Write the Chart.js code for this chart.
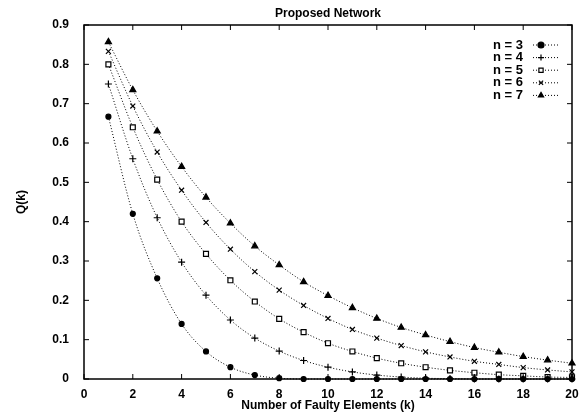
<!DOCTYPE html>
<html>
<head>
<meta charset="utf-8">
<script src="https://cdn.jsdelivr.net/npm/chart.js@4/dist/chart.umd.min.js"></script>
<style>
  html, body { margin: 0; padding: 0; background: #fff; }
  #wrap { width: 586px; height: 416px; }
</style>
</head>
<body>
<div id="wrap"><canvas id="chart"></canvas></div>
<script>
// faulty elements k
const ks = [1, 2, 3, 4, 5, 6, 7, 8, 9, 10, 11, 12, 13, 14, 15, 16, 17, 18, 19, 20];

// Q(k) for each n
const q3 = [0.667, 0.42, 0.256, 0.14, 0.07, 0.03, 0.01, 0.002, 0, 0, 0, 0, 0, 0, 0, 0, 0, 0, 0, 0];
const q4 = [0.75, 0.56, 0.41, 0.297, 0.213, 0.15, 0.104, 0.071, 0.047, 0.03, 0.018, 0.01, 0.005, 0.002, 0.001, 0, 0, 0, 0, 0];
const q5 = [0.8, 0.64, 0.507, 0.40, 0.318, 0.251, 0.197, 0.153, 0.119, 0.091, 0.07, 0.053, 0.04, 0.03, 0.022, 0.016, 0.011, 0.008, 0.005, 0.004];
const q6 = [0.833, 0.694, 0.577, 0.48, 0.398, 0.33, 0.273, 0.226, 0.187, 0.154, 0.126, 0.104, 0.085, 0.069, 0.056, 0.045, 0.037, 0.029, 0.023, 0.018];
const q7 = [0.857, 0.735, 0.63, 0.54, 0.462, 0.396, 0.338, 0.29, 0.247, 0.212, 0.181, 0.154, 0.131, 0.112, 0.095, 0.08, 0.068, 0.057, 0.048, 0.04];

const seriesNames = ['n = 3', 'n = 4', 'n = 5', 'n = 6', 'n = 7'];
const xTicks = [0, 2, 4, 6, 8, 10, 12, 14, 16, 18, 20];
const yTicks = [0, 0.1, 0.2, 0.3, 0.4, 0.5, 0.6, 0.7, 0.8, 0.9];
const titleText = 'Proposed Network';

const FONT = 'Liberation Sans, Arial, sans-serif';

const styles = [
  {pointStyle: 'circle', pointRadius: 2.5, fill: '#000'},
  {pointStyle: 'cross', pointRadius: 3.5, fill: '#000'},
  {pointStyle: 'rect', pointRadius: 3.5, fill: '#fff'},
  {pointStyle: 'crossRot', pointRadius: 3.5, fill: '#000'},
  {pointStyle: 'triangle', pointRadius: 3.5, fill: '#000'},
];

function pts(vals) {
  return ks.map((k, i) => ({x: k, y: vals[i]}));
}

const datasets = [q3, q4, q5, q6, q7].map((vals, i) => ({
  label: seriesNames[i],
  data: pts(vals),
  borderColor: '#000',
  borderWidth: 1,
  borderDash: [1, 2],
  backgroundColor: styles[i].fill,
  pointStyle: styles[i].pointStyle,
  pointRadius: styles[i].pointRadius,
  pointBorderColor: '#000',
  pointBorderWidth: 1.2,
  pointBackgroundColor: styles[i].fill,
  tension: 0.4,
  cubicInterpolationMode: 'monotone',
  clip: false
}));

// gnuplot-like frame with inward ticks on all sides, plus the title over the plot area
const framePlugin = {
  id: 'frame',
  afterDatasetsDraw(chart) {
    const ctx = chart.ctx, a = chart.chartArea;
    const xs = chart.scales.x, ys = chart.scales.y;
    ctx.save();
    ctx.strokeStyle = '#000';
    ctx.lineWidth = 1.5;
    ctx.strokeRect(a.left, a.top, a.right - a.left, a.bottom - a.top);
    ctx.lineWidth = 1;
    ctx.beginPath();
    const len = 5;
    xTicks.forEach(v => {
      const px = xs.getPixelForValue(v);
      ctx.moveTo(px, a.bottom); ctx.lineTo(px, a.bottom - len);
      ctx.moveTo(px, a.top); ctx.lineTo(px, a.top + len);
    });
    yTicks.forEach(v => {
      const py = ys.getPixelForValue(v);
      ctx.moveTo(a.left, py); ctx.lineTo(a.left + len, py);
      ctx.moveTo(a.right, py); ctx.lineTo(a.right - len, py);
    });
    ctx.stroke();
    ctx.font = 'bold 12px ' + FONT;
    ctx.fillStyle = '#000';
    ctx.textAlign = 'center';
    ctx.textBaseline = 'middle';
    ctx.fillText(titleText, (a.left + a.right) / 2, 14);
    ctx.restore();
  }
};

// legend: text right-aligned, then a dotted sample with its marker
const keyPlugin = {
  id: 'key',
  afterDraw(chart) {
    const ctx = chart.ctx, a = chart.chartArea;
    ctx.save();
    ctx.font = 'bold 13px ' + FONT;
    ctx.textAlign = 'right';
    ctx.textBaseline = 'middle';
    chart.data.datasets.forEach((ds, i) => {
      const y = 45 + i * 12.6;
      const tx = 523;
      ctx.fillStyle = '#000';
      ctx.fillText(ds.label, tx, y);
      ctx.strokeStyle = '#000';
      ctx.lineWidth = 1;
      ctx.setLineDash([1, 2]);
      ctx.beginPath();
      ctx.moveTo(tx + 10, y); ctx.lineTo(tx + 36, y);
      ctx.stroke();
      ctx.setLineDash([]);
      ctx.fillStyle = ds.pointBackgroundColor;
      ctx.lineWidth = 1.2;
      Chart.helpers.drawPoint(ctx, {pointStyle: ds.pointStyle, radius: 3, rotation: 0, borderWidth: 1.2}, tx + 18, y);
    });
    ctx.restore();
  }
};

const tickFont = {family: FONT, size: 12, weight: 'bold'};

new Chart(document.getElementById('chart'), {
  type: 'line',
  data: {datasets: datasets},
  options: {
    responsive: true,
    maintainAspectRatio: false,
    animation: false,
    layout: {padding: {left: 0, right: 14, top: 25, bottom: 0}},
    plugins: {
      legend: {display: false},
      tooltip: {enabled: false},
      title: {display: false}
    },
    scales: {
      x: {
        type: 'linear',
        min: 0, max: 20,
        afterBuildTicks(scale) { scale.ticks = xTicks.map(v => ({value: v})); },
        afterFit(scale) { scale.height = 37; },
        grid: {display: false},
        border: {display: false},
        ticks: {color: '#000', font: tickFont, padding: 0, maxRotation: 0},
        title: {display: true, text: 'Number of Faulty Elements (k)', color: '#000',
                font: tickFont, padding: {top: 0, bottom: 3}}
      },
      y: {
        min: 0, max: 0.9,
        afterBuildTicks(scale) { scale.ticks = yTicks.map(v => ({value: v})); },
        afterFit(scale) { scale.width = 84; },
        grid: {display: false},
        border: {display: false},
        ticks: {color: '#000', font: tickFont, padding: 7,
                callback: v => String(+v.toFixed(1))},
        title: {display: true, text: 'Q(k)', color: '#000',
                font: tickFont, padding: {top: 14, bottom: 0}}
      }
    }
  },
  plugins: [framePlugin, keyPlugin]
});
</script>
</body>
</html>
